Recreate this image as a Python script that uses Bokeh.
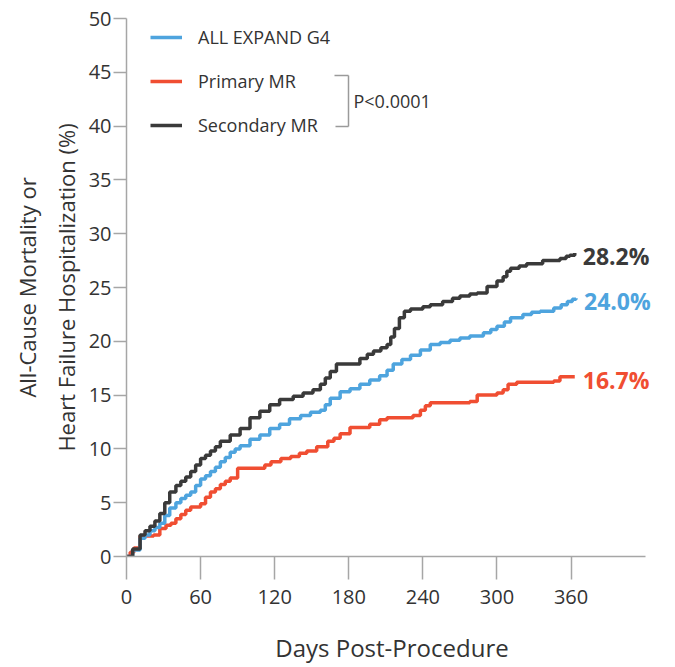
from bokeh.plotting import figure
from bokeh.models import FixedTicker, Label, Legend, LegendItem, Arrow, LinearAxis
from bokeh.embed import file_html
from bokeh.resources import INLINE

# ---------------- data ----------------
all_days = [0, 5, 11, 15, 19, 23, 27, 31, 35, 40, 44, 48, 52, 56, 60, 64, 68, 72, 76, 80,
            84, 88, 92, 100, 108, 116, 124, 132, 141, 149, 157, 161, 165, 173, 181, 189, 197, 205, 211, 216,
            223, 230, 238, 246, 254, 262, 270, 278, 289, 295, 300, 306, 311, 321, 328, 335, 346, 352, 357, 361, 364]
all_pct = [0, 0.6, 1.7, 2.0, 2.4, 2.7, 3.1, 3.8, 4.5, 5.0, 5.4, 5.7, 6.0, 6.6, 7.2, 7.5, 7.9, 8.3, 8.8, 9.2,
           9.7, 10.0, 10.3, 10.9, 11.3, 11.9, 12.3, 12.8, 13.1, 13.4, 13.6, 14.1, 14.7, 15.3, 15.6, 16.0, 16.4, 16.8, 17.3, 17.9,
           18.3, 18.7, 19.2, 19.7, 19.9, 20.1, 20.3, 20.5, 20.8, 21.1, 21.4, 21.8, 22.2, 22.5, 22.7, 22.8, 23.1, 23.4, 23.7, 23.9, 24.0]

pri_days = [0, 3, 6, 11, 22, 27, 32, 36, 40, 44, 48, 52, 60, 64, 68, 72, 76, 80, 84, 90,
            108, 112, 117, 125, 133, 140, 146, 154, 163, 168, 173, 181, 197, 205, 211, 232, 238, 242, 246, 278,
            284, 300, 305, 309, 316, 346, 351, 363]
pri_pct = [0, 0.4, 0.8, 1.9, 2.0, 2.6, 2.9, 3.1, 3.5, 3.9, 4.3, 4.6, 4.9, 5.5, 6.0, 6.3, 6.7, 7.0, 7.3, 8.2,
           8.2, 8.5, 8.8, 9.1, 9.3, 9.6, 9.8, 10.2, 10.7, 11.0, 11.4, 12.0, 12.3, 12.7, 12.9, 13.1, 13.6, 14.0, 14.3, 14.4,
           15.0, 15.2, 15.5, 16.0, 16.2, 16.3, 16.7, 16.7]

sec_days = [0, 5, 11, 15, 19, 23, 27, 31, 35, 40, 44, 48, 52, 56, 60, 64, 68, 72, 76, 84,
            92, 100, 108, 116, 124, 135, 143, 151, 157, 161, 165, 170, 181, 189, 195, 200, 206, 211, 214, 217,
            221, 225, 230, 240, 246, 256, 264, 270, 278, 284, 292, 300, 305, 308, 311, 318, 324, 337, 351, 356,
            359, 363]
sec_pct = [0, 0.7, 2.0, 2.4, 2.8, 3.3, 4.0, 5.0, 6.0, 6.6, 7.0, 7.4, 7.9, 8.5, 9.1, 9.4, 9.8, 10.2, 10.7, 11.3,
           11.9, 12.9, 13.5, 14.1, 14.6, 14.9, 15.2, 15.5, 16.0, 16.6, 17.2, 17.9, 17.9, 18.4, 18.8, 19.1, 19.4, 19.7, 20.4, 21.2,
           22.2, 22.8, 23.0, 23.2, 23.4, 23.7, 24.0, 24.2, 24.4, 24.5, 25.1, 25.6, 26.0, 26.5, 26.8, 27.0, 27.2, 27.5, 27.7, 27.9,
           28.0, 28.2]

series_names = ["ALL EXPAND G4", "Primary MR", "Secondary MR"]
end_labels = ["24.0%", "16.7%", "28.2%"]
p_value_text = "P<0.0001"
x_ticks = [0, 60, 120, 180, 240, 300, 360]
y_ticks = [0, 5, 10, 15, 20, 25, 30, 35, 40, 45, 50]
x_title = "Days Post-Procedure"
y_title_lines = ["All-Cause Mortality or", "Heart Failure Hospitalization (%)"]

# ---------------- styling ----------------
BLUE = "#4ea4de"
RED = "#f04e32"
DARK = "#3a3a3a"
AXIS = "#a6a6a6"
TXT = "#333333"
FONT = "Open Sans"

p = figure(width=675, height=667, x_range=(0, 430), y_range=(0, 50),
           output_backend="svg", toolbar_location=None,
           min_border_left=126, min_border_right=18, min_border_top=18, min_border_bottom=111)
p.title.visible = False
p.xgrid.visible = False
p.ygrid.visible = False
p.outline_line_color = None
p.background_fill_color = "white"
p.border_fill_color = "white"

for ax in (p.xaxis, p.yaxis):
    ax.axis_line_color = AXIS
    ax.axis_line_width = 1.5
    ax.major_tick_line_color = AXIS
    ax.major_tick_line_width = 1.5
    ax.minor_tick_line_color = None
    ax.major_tick_in = 0
    ax.major_label_text_font = FONT
    ax.major_label_text_font_size = "20px"
    ax.major_label_text_color = TXT
    ax.axis_label_text_font = FONT
    ax.axis_label_text_font_style = "normal"
    ax.axis_label_text_color = TXT

p.xaxis.ticker = FixedTicker(ticks=x_ticks)
p.xaxis.bounds = (0, 420)
p.yaxis.ticker = FixedTicker(ticks=y_ticks)
p.xaxis.major_tick_out = 23
p.xaxis.major_label_standoff = 10
p.xaxis.axis_label = x_title
p.xaxis.axis_label_text_font_size = "24px"
p.xaxis.axis_label_standoff = 24
p.yaxis.major_tick_out = 13
p.yaxis.major_label_standoff = 2
p.yaxis.axis_label = y_title_lines[1]
p.yaxis.axis_label_text_font_size = "22px"
p.yaxis.axis_label_standoff = 5

outer = LinearAxis(ticker=FixedTicker(ticks=[]), axis_label=y_title_lines[0],
                   axis_line_color=None, major_tick_line_color=None, minor_tick_line_color=None,
                   major_label_text_font_size="0px", axis_label_standoff=6,
                   axis_label_text_font=FONT, axis_label_text_font_size="22px",
                   axis_label_text_font_style="normal", axis_label_text_color=TXT)
p.add_layout(outer, "left")

lw = 3.5
r_red = p.step(pri_days, pri_pct, mode="after", line_width=lw, line_color=RED)
r_blue = p.step(all_days, all_pct, mode="after", line_width=lw, line_color=BLUE)
r_dark = p.step(sec_days, sec_pct, mode="after", line_width=lw, line_color=DARK)

legend = Legend(items=[LegendItem(label=series_names[0], renderers=[r_blue]),
                       LegendItem(label=series_names[1], renderers=[r_red]),
                       LegendItem(label=series_names[2], renderers=[r_dark])],
                location=(24, 419), orientation="vertical",
                glyph_width=32, glyph_height=20, label_height=20, spacing=20,
                padding=0, margin=0, label_standoff=16,
                border_line_color=None, background_fill_alpha=0,
                label_text_font=FONT, label_text_font_size="18px", label_text_color=TXT)
p.add_layout(legend)

# bracket for p-value (screen units, relative to the frame)
for (x0, y0, x1, y1) in [(208, 481, 222, 481), (222, 481, 222, 430), (222, 430, 209, 430)]:
    p.add_layout(Arrow(x_start=x0, y_start=y0, x_end=x1, y_end=y1,
                       start_units="screen", end_units="screen", start=None, end=None,
                       line_color="#9a9a9a", line_width=1.5))
p.add_layout(Label(x=227, y=456, x_units="screen", y_units="screen", text=p_value_text,
                   text_font=FONT, text_font_size="18px", text_color=TXT, text_baseline="middle"))

# end-of-curve labels
for days, pct, txt, col in [(all_days, all_pct, end_labels[0], BLUE),
                            (pri_days, pri_pct, end_labels[1], RED),
                            (sec_days, sec_pct, end_labels[2], DARK)]:
    p.add_layout(Label(x=days[-1], y=pct[-1], x_offset=8, y_offset=-3, text=txt,
                       text_font=FONT, text_font_size="23px", text_font_style="bold",
                       text_color=col, text_baseline="middle"))

open("out.html", "w").write(file_html(p, INLINE))
